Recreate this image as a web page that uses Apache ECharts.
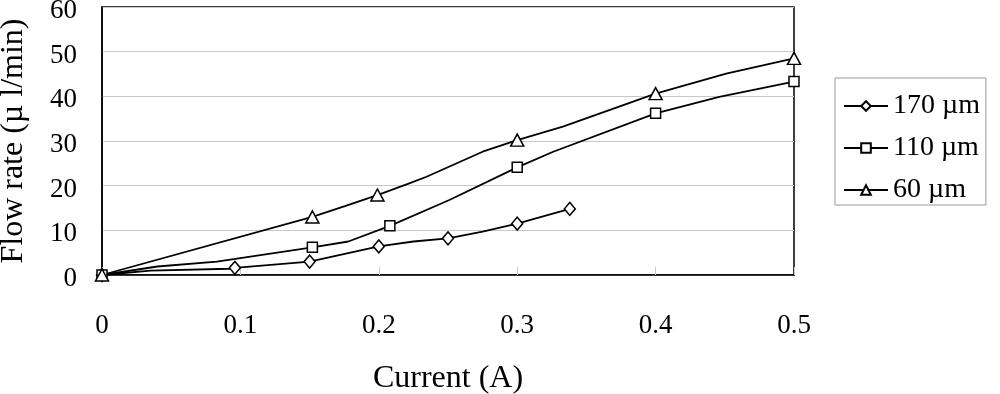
<!DOCTYPE html>
<html>
<head>
<meta charset="utf-8">
<script src="https://cdn.jsdelivr.net/npm/echarts@6/dist/echarts.min.js"></script>
<style>
html,body{margin:0;padding:0;background:#fff;}
#chart{width:1000px;height:394px;}
</style>
</head>
<body>
<div id="chart"></div>
<script>
// Data
const xTicks = [0, 0.1, 0.2, 0.3, 0.4, 0.5];
const yTicks = [0, 10, 20, 30, 40, 50, 60];

const seriesNames = ['170 µm', '110 µm', '60 µm'];

const current170 = [0, 0.035, 0.092, 0.096, 0.15, 0.2, 0.225, 0.25, 0.275, 0.3, 0.338];
const flow170    = [0, 1.0,   1.4,   1.6,   3.0,  6.4, 7.5,   8.2,  9.7,   11.5, 14.8];
const marker170  = [1, 0,     0,     1,     1,    1,   0,     1,    0,     1,    1];

const current110 = [0, 0.04, 0.083, 0.152, 0.178, 0.208, 0.251, 0.3,  0.326, 0.4,  0.446, 0.5];
const flow110    = [0, 1.9,  3.0,   6.2,   7.5,   11.0,  16.8,  24.1, 27.6,  36.2, 39.9,  43.3];
const marker110  = [1, 0,    0,     1,     0,     1,     0,     1,    0,     1,    0,     1];

const current60 = [0, 0.152, 0.1755, 0.199, 0.222, 0.2345, 0.275, 0.3,  0.333, 0.4,  0.451, 0.5];
const flow60    = [0, 13.0,  15.4,   17.9,  20.5,  22.0,   27.6,  30.2, 33.2,  40.6, 45.1,  48.5];
const marker60  = [1, 1,     0,      1,     0,     0,      0,     1,    0,     1,    0,     1];

const FONT = "'Liberation Serif','Times New Roman',serif";

function build(xs, ys, ms) {
  return xs.map((x, i) => ms[i] ? { value: [x, ys[i]] } : { value: [x, ys[i]], symbol: 'none' });
}

const lineStyle = { color: '#000', width: 1.8 };
const itemStyle = { color: '#fff', borderColor: '#000', borderWidth: 1.5 };

const chart = echarts.init(document.getElementById('chart'));
chart.setOption({
  animation: false,
  backgroundColor: '#fff',
  grid: {
    left: 102, right: 206, top: 7, bottom: 119,
    outerBoundsMode: 'none', containLabel: false,
    show: true, borderColor: '#000', borderWidth: 1.5, backgroundColor: 'transparent'
  },
  legend: {
    orient: 'vertical',
    left: 835, top: 78,
    padding: [14, 6, 1, 8],
    itemWidth: 44, itemHeight: 12, itemGap: 14,
    borderColor: '#999', borderWidth: 1,
    textStyle: { fontFamily: FONT, fontSize: 28, color: '#000' },
    data: seriesNames
  },
  xAxis: {
    type: 'value', min: 0, max: 0.5, interval: 0.1,
    name: 'Current (A)', nameLocation: 'middle', nameGap: 88,
    nameTextStyle: { fontFamily: FONT, fontSize: 32, color: '#000' },
    axisLine: { show: true, lineStyle: { color: '#000', width: 1.5 } },
    axisTick: { show: true, inside: true, length: 8, lineStyle: { color: '#c8c8c8' } },
    splitLine: { show: false },
    axisLabel: {
      margin: 37, fontFamily: FONT, fontSize: 27, color: '#000',
      formatter: v => String(xTicks.find(t => Math.abs(t - v) < 1e-9) ?? v)
    }
  },
  yAxis: {
    type: 'value', min: 0, max: 60, interval: 10,
    name: 'Flow rate (µ l/min)', nameLocation: 'middle', nameGap: 72,
    nameTextStyle: { fontFamily: FONT, fontSize: 32, color: '#000' },
    axisLine: { show: true, lineStyle: { color: '#000', width: 1.5 } },
    axisTick: { show: false },
    splitLine: { show: true, lineStyle: { color: '#c8c8c8', width: 1 } },
    axisLabel: {
      margin: 25, fontFamily: FONT, fontSize: 27, color: '#000',
      verticalAlign: 'top', lineHeight: 8,
      formatter: v => String(yTicks.find(t => t === v) ?? v)
    }
  },
  series: [
    { name: seriesNames[0], type: 'line', data: build(current170, flow170, marker170),
      symbol: 'diamond', symbolSize: [11, 13], showAllSymbol: true, lineStyle, itemStyle },
    { name: seriesNames[1], type: 'line', data: build(current110, flow110, marker110),
      symbol: 'rect', symbolSize: 10, showAllSymbol: true, lineStyle, itemStyle },
    { name: seriesNames[2], type: 'line', data: build(current60, flow60, marker60),
      symbol: 'triangle', symbolSize: [13, 12], showAllSymbol: true, lineStyle, itemStyle }
  ]
});
</script>
</body>
</html>
